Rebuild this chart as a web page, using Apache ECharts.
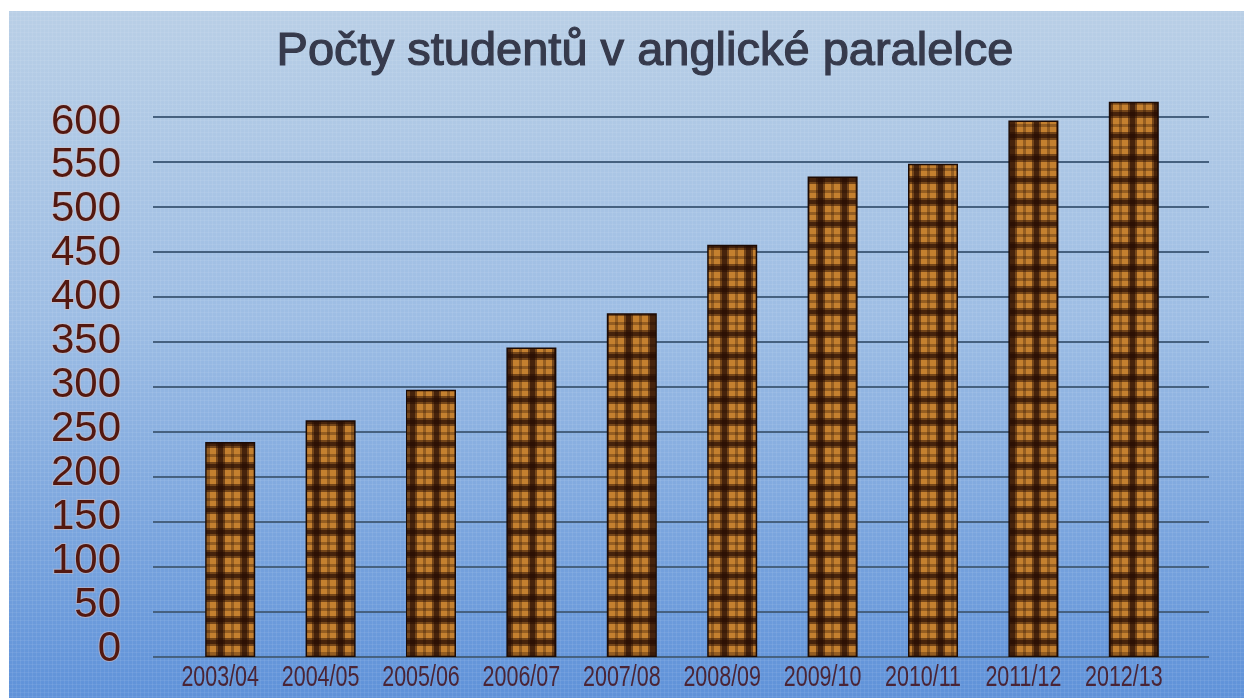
<!DOCTYPE html>
<html>
<head>
<meta charset="utf-8">
<script src="https://cdn.jsdelivr.net/npm/echarts@6/dist/echarts.min.js"></script>
<style>
  html, body { margin: 0; padding: 0; background: #fff; }
  #chart { width: 1244px; height: 698px; }
</style>
</head>
<body>
<div id="chart"></div>
<script>
const categories = ['2003/04', '2004/05', '2005/06', '2006/07', '2007/08',
  '2008/09', '2009/10', '2010/11', '2011/12', '2012/13']
const students = [239, 263, 297, 344, 382, 458, 534, 548, 596, 617]
const titleText = 'Počty studentů v anglické paralelce'

// brown plaid used as the bar fill
function plaid() {
  const c = document.createElement('canvas')
  c.width = 24
  c.height = 22
  const g = c.getContext('2d')
  g.fillStyle = '#c4802f'
  g.fillRect(0, 0, 24, 22)
  g.fillStyle = 'rgba(38,12,3,0.5)'
  g.fillRect(0, 0, 9, 22)
  g.fillRect(0, 0, 24, 8)
  g.fillStyle = 'rgba(38,12,3,0.6)'
  g.fillRect(2, 0, 5, 22)
  g.fillRect(0, 2, 24, 4)
  g.fillStyle = 'rgba(38,12,3,0.3)'
  g.fillRect(15, 0, 3, 22)
  g.fillRect(0, 14, 24, 3)
  return c
}

// faint screen texture over the blue background
function texture() {
  const c = document.createElement('canvas')
  c.width = 4
  c.height = 4
  const g = c.getContext('2d')
  g.fillStyle = 'rgba(255,255,255,0.07)'
  g.fillRect(0, 0, 4, 1)
  g.fillRect(0, 0, 1, 4)
  return c
}

const chart = echarts.init(document.getElementById('chart'), null, { renderer: 'canvas' })

const yBase = { type: 'value', min: 0, max: 600, interval: 50 }

const option = {
  animation: false,
  backgroundColor: '#ffffff',
  graphic: {
    elements: [
      {
        id: 'bg', type: 'rect', z: -20, silent: true,
        shape: { x: 9, y: 11, width: 1235, height: 687 },
        style: {
          fill: new echarts.graphic.LinearGradient(0, 0, 0, 1, [
            { offset: 0, color: '#b9cfe6' },
            { offset: 0.45, color: '#9dbde4' },
            { offset: 1, color: '#5f92d9' },
          ]),
        },
      },
      {
        id: 'tex', type: 'rect', z: -19, silent: true,
        shape: { x: 9, y: 11, width: 1235, height: 687 },
        style: { fill: { image: texture(), repeat: 'repeat' } },
      },
      {
        id: 'title', type: 'text', z: 10, x: 645, y: 52,
        style: {
          text: titleText,
          font: '47px "Liberation Sans", Arial, sans-serif',
          fill: '#363a4c',
          stroke: '#363a4c',
          lineWidth: 1.2,
          align: 'center',
          verticalAlign: 'middle',
        },
      },
    ],
  },
  grid: [
    // gridlines
    { left: 153, right: 35, top: 117, bottom: 41 },
    // y labels
    { left: 153, right: 35, top: 122, bottom: 49 },
    // bars (0..650 so the last bar can rise above the top line)
    { left: 180, right: 60, top: 72, bottom: 41 },
  ],
  xAxis: [
    { gridIndex: 0, type: 'value', show: false },
    { gridIndex: 1, type: 'value', show: false },
    {
      gridIndex: 2,
      type: 'category',
      data: categories,
      axisLine: { show: false },
      axisTick: { show: false },
      axisLabel: { show: false },
    },
  ],
  yAxis: [
    {
      ...yBase,
      gridIndex: 0,
      axisLine: { show: false },
      axisTick: { show: false },
      axisLabel: { show: false },
      splitLine: { lineStyle: { color: '#46617f', width: 2 } },
    },
    {
      ...yBase,
      gridIndex: 1,
      axisLine: { show: false },
      axisTick: { show: false },
      splitLine: { show: false },
      axisLabel: {
        margin: 32,
        color: '#531810',
        fontSize: 42,
        fontFamily: '"Liberation Sans", Arial, sans-serif',
        textBorderColor: 'rgba(230,190,180,0.45)',
        textBorderWidth: 2,
      },
    },
    { type: 'value', min: 0, max: 650, interval: 50, gridIndex: 2, show: false },
  ],
  series: [
    {
      type: 'bar',
      xAxisIndex: 2,
      yAxisIndex: 2,
      data: students,
      barWidth: 50,
      itemStyle: {
        color: { image: plaid(), repeat: 'repeat' },
        borderColor: '#1c0a04',
        borderWidth: 1.5,
      },
    },
  ],
}

chart.setOption(option)

// category labels: the original uses a condensed face, so squeeze them horizontally
const labelEls = categories.map((name, i) => {
  const [x, y] = chart.convertToPixel({ xAxisIndex: 2, yAxisIndex: 2 }, [i, 0])
  return {
    id: 'xl' + i, type: 'text', z: 10, silent: true,
    x: x - 10, y: y + 21, scaleX: 0.74,
    style: {
      text: name,
      font: '29px "Liberation Sans", Arial, sans-serif',
      fill: '#4a2536',
      align: 'center',
      verticalAlign: 'middle',
    },
  }
})
chart.setOption({ graphic: { elements: labelEls } })
</script>
</body>
</html>
